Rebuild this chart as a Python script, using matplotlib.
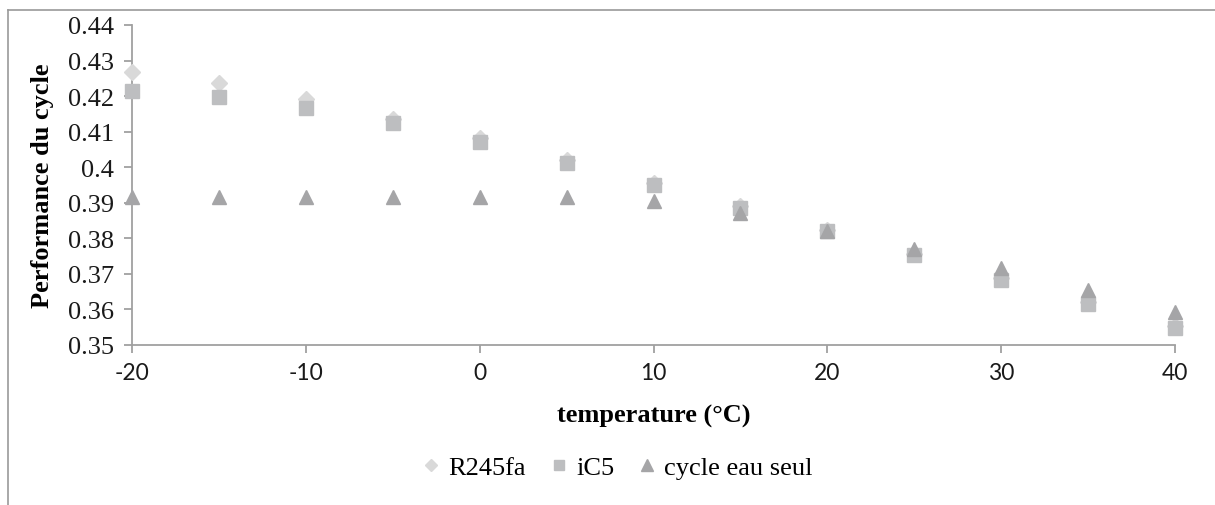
import matplotlib
matplotlib.use('Agg')
import matplotlib.pyplot as plt
from matplotlib.lines import Line2D

# donnees
temperature = [-20, -15, -10, -5, 0, 5, 10, 15, 20, 25, 30, 35, 40]
r245fa = [0.4269, 0.4237, 0.4193, 0.4137, 0.4082, 0.4021, 0.3955, 0.3890, 0.3823, 0.3756, 0.3688, 0.3620, 0.3553]
ic5 = [0.4214, 0.4198, 0.4167, 0.4123, 0.4070, 0.4011, 0.3949, 0.3886, 0.3820, 0.3753, 0.3684, 0.3616, 0.3549]
eau_seul = [0.3916, 0.3917, 0.3917, 0.3917, 0.3917, 0.3917, 0.3904, 0.3871, 0.3822, 0.3771, 0.3716, 0.3655, 0.3594]

y_ticks = [0.35, 0.36, 0.37, 0.38, 0.39, 0.4, 0.41, 0.42, 0.43, 0.44]
y_labels = ['0.35', '0.36', '0.37', '0.38', '0.39', '0.4', '0.41', '0.42', '0.43', '0.44']
x_ticks = [-20, -10, 0, 10, 20, 30, 40]

gris_axe = '#A0A0A0'
serif = 'Liberation Serif'

fig = plt.figure(figsize=(12.15, 5.06), dpi=100)
ax = fig.add_axes([132 / 1215, 1 - 346 / 506, (1175 - 132) / 1215, (346 - 26) / 506])

ax.plot(temperature, r245fa, linestyle='none', marker='D', markersize=8,
        color='#D9D9D9', label='R245fa', clip_on=False, zorder=3)
ax.plot(temperature, ic5, linestyle='none', marker='s', markersize=9.5,
        color='#BDBEC0', label='iC5', clip_on=False, zorder=4)
ax.plot(temperature, eau_seul, linestyle='none', marker='^', markersize=10.5,
        color='#A5A5A7', label='cycle eau seul', clip_on=False, zorder=5)

ax.set_xlim(-20, 40)
ax.set_ylim(0.35, 0.44)
ax.set_xticks(x_ticks)
ax.set_xticklabels([str(t) for t in x_ticks], fontfamily='Lato', fontsize=16.5)
ax.set_yticks(y_ticks)
ax.set_yticklabels(y_labels, fontfamily=serif, fontsize=19)

for side in ['top', 'right']:
    ax.spines[side].set_visible(False)
for side in ['left', 'bottom']:
    ax.spines[side].set_color(gris_axe)
    ax.spines[side].set_linewidth(1.3)
ax.tick_params(axis='both', direction='out', length=6, width=1.3, color=gris_axe, labelcolor='#1A1A1A')
ax.tick_params(axis='x', pad=6)
ax.tick_params(axis='y', pad=7)

ax.set_xlabel('temperature (°C)', fontfamily=serif, fontweight='bold', fontsize=19)
ax.xaxis.set_label_coords((654 - 132) / 1043, (346 - 405) / 320)
ax.set_ylabel('Performance du cycle', fontfamily=serif, fontweight='bold', fontsize=19)
ax.yaxis.set_label_coords((54 - 132) / 1043, 0.5)

leg = fig.legend(loc='center', bbox_to_anchor=(618 / 1215, 1 - 468 / 506), ncol=3, frameon=False,
                 markerscale=0.8, handlelength=0.6, handletextpad=0.35, columnspacing=0.95,
                 prop={'family': serif, 'size': 19})

# bordure de la zone du graphique (coupee a droite et en bas)
fig.add_artist(Line2D([8 / 1215, 1.0], [1 - 11 / 506, 1 - 11 / 506], color='#9A9A9A', linewidth=1.2))
fig.add_artist(Line2D([8 / 1215, 8 / 1215], [0.0, 1 - 11 / 506], color='#9A9A9A', linewidth=1.2))

fig.savefig('out.png', dpi=100)
